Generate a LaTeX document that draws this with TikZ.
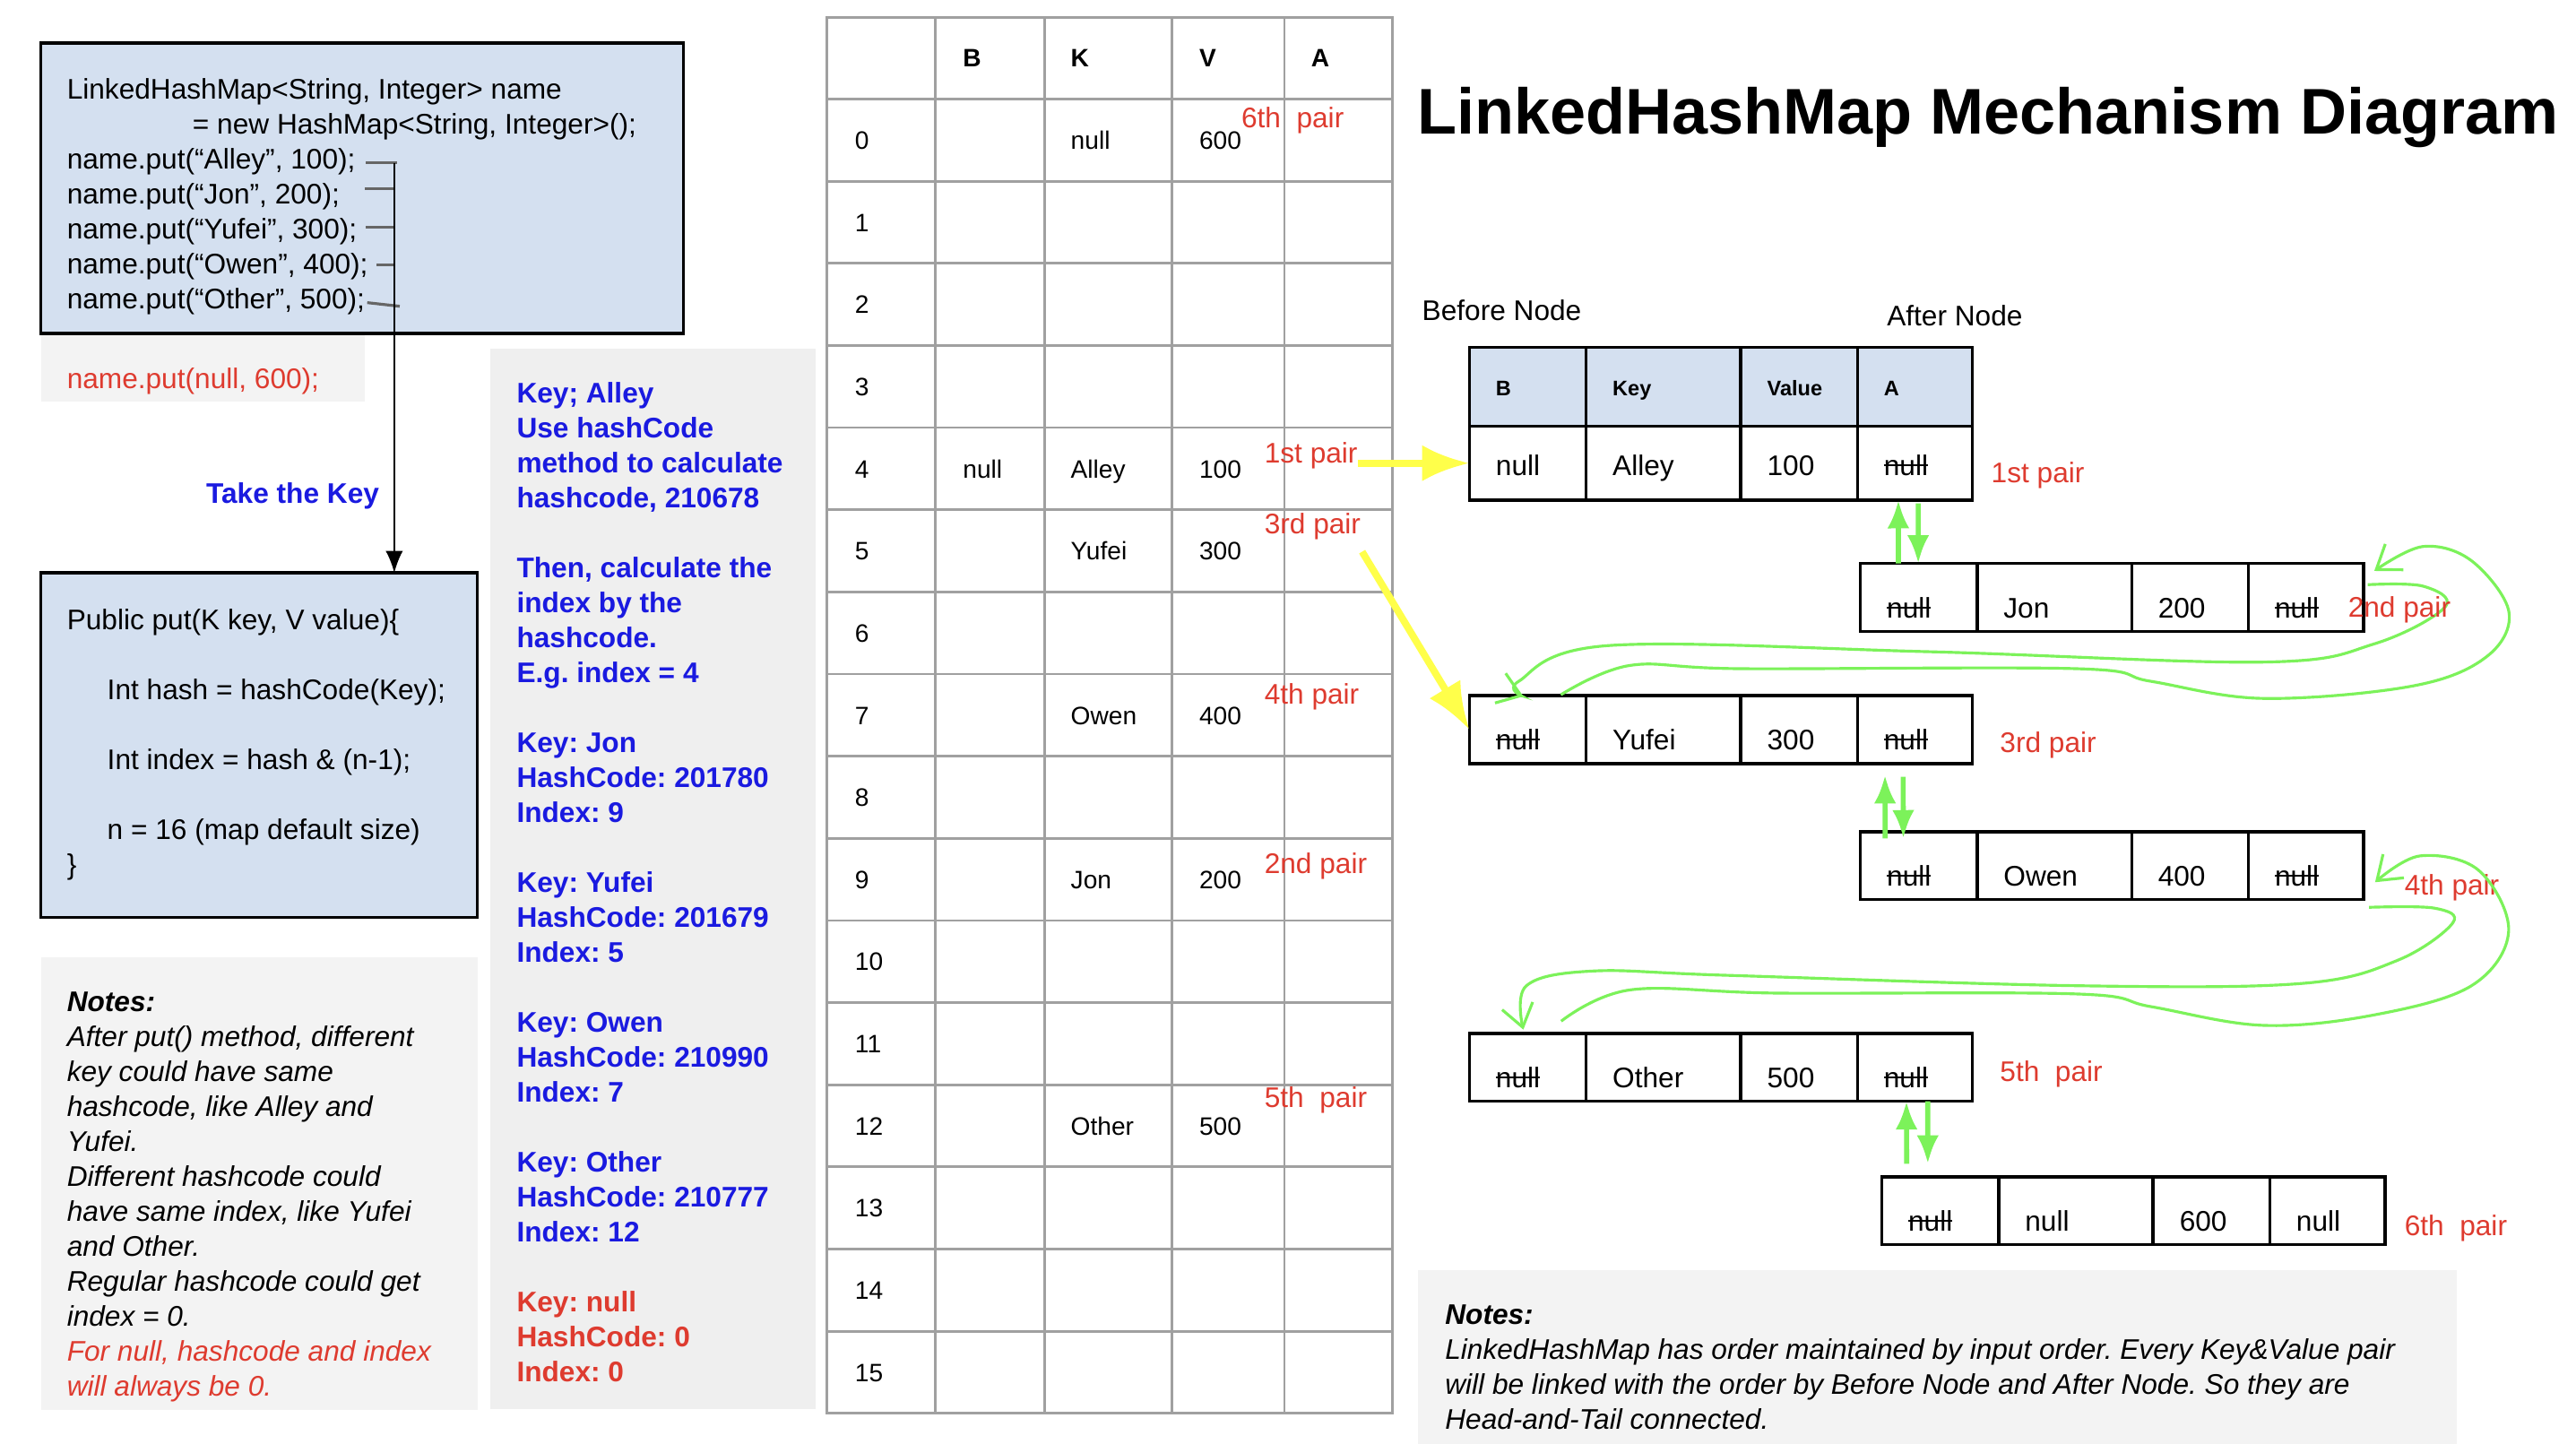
\documentclass[tikz,border=0pt]{standalone}
\usepackage{fontspec}
\setmainfont{Liberation Sans}
\usetikzlibrary{shapes, arrows.meta, positioning, calc}
\frenchspacing

\definecolor{codeblue}{RGB}{212,224,240}
\definecolor{notegray}{RGB}{243,243,243}
\definecolor{panelgray}{RGB}{239,239,239}
\definecolor{gridgray}{RGB}{160,160,160}
\definecolor{keyblue}{RGB}{26,26,224}
\definecolor{pairred}{RGB}{222,59,47}
\definecolor{linkgreen}{RGB}{124,242,90}
\definecolor{pointyellow}{RGB}{255,255,74}

\newlength\strikelen
\newcommand\struck[1]{\settowidth{\strikelen}{#1}\rlap{#1}\rule[0.33em]{\strikelen}{0.6pt}}

\begin{document}
\begin{tikzpicture}[x=0.5241pt, y=-0.5241pt]
      \tikzstyle{codebox} = [
        rectangle,
        draw,
        line width=1pt,
        fill=codeblue,
        anchor=north west,
        inner sep=0pt,
        outer sep=0pt
      ]

      \tikzstyle{notebox} = [
        rectangle,
        fill=notegray,
        anchor=north west,
        inner sep=0pt
      ]

      \tikzstyle{textblock} = [
        anchor=north west,
        inner sep=0pt,
        align=left,
        font=\fontsize{9}{11.1}\selectfont
      ]

      \tikzstyle{oneline} = [
        anchor=base west,
        inner sep=0pt,
        font=\fontsize{9}{11.1}\selectfont
      ]

      \tikzstyle{pairtag} = [oneline, text=pairred]

      \tikzstyle{tabtext} = [
        anchor=base west,
        inner sep=0pt,
        font=\fontsize{8}{10}\selectfont
      ]

      \tikzstyle{tabhead} = [tabtext, font=\fontsize{8}{10}\selectfont\bfseries]

      \tikzstyle{cell} = [
        rectangle,
        draw,
        line width=1pt,
        fill=white,
        inner xsep=8.4pt,
        inner ysep=0pt,
        outer sep=0pt,
        align=left,
        text height=13.9pt,
        text depth=1pt,
        minimum height=21.5pt,
        font=\fontsize{9}{11}\selectfont
      ]

      \tikzstyle{bcell} = [cell, text width=20.25pt]
      \tikzstyle{kcell} = [cell, text width=32.25pt]
      \tikzstyle{vcell} = [cell, text width=20.25pt]
      \tikzstyle{acell} = [cell, text width=19.7pt]

      \tikzstyle{headrow} = [
        fill=codeblue,
        minimum height=25.1pt,
        text height=6.8pt,
        font=\fontsize{6.7}{8}\selectfont\bfseries
      ]

      \tikzstyle{firstrow} = [minimum height=23.4pt, text height=8.9pt]

      \tikzstyle{gridline} = [draw=gridgray, line width=0.8pt]
      \tikzstyle{codetick} = [draw=black!60, line width=0.9pt]
      \tikzstyle{hashpointer} = [draw=pointyellow, line width=2.25pt, -{Latex[length=15pt, width=11.5pt]}]
      \tikzstyle{pairlink} = [draw=linkgreen, line width=1.6pt, -{Latex[length=9pt, width=7pt]}]
      \tikzstyle{backlink} = [draw=linkgreen, line width=0.9pt, -{Straight Barb[length=7pt, width=10pt]}]

      \path[fill=white, use as bounding box] (0,0) rectangle (1560.2,874.05);

      % code and notes on the left
      \node[notebox, minimum width=102.8pt, minimum height=21.3pt] (nullbox) at (24.6,202) {};
      \node[codebox, minimum width=204.1pt, minimum height=92.2pt] (declbox) at (24.6,26) {};
      \node[codebox, minimum width=138.6pt, minimum height=109.3pt] (putbox) at (24.6,347) {};
      \node[notebox, minimum width=138.6pt, minimum height=143.6pt] (keynotes) at (24.6,579.5) {};
      \node[notebox, fill=panelgray, minimum width=103.3pt, minimum height=336.5pt] (hashpanel) at (296.6,211) {};
      \node[notebox, minimum width=329.6pt, minimum height=55pt] (mapnotes) at (858.6,769) {};

      \node[textblock] (decltext) at (40.2,44.7) {\strut LinkedHashMap<String, Integer> name\\
        \hspace*{39.9pt}= new HashMap<String, Integer>();\\
        name.put(“Alley”, 100);\\
        name.put(“Jon”, 200);\\
        name.put(“Yufei”, 300);\\
        name.put(“Owen”, 400);\\
        name.put(“Other”, 500);};
      \node[oneline, text=pairred] (nullput) at (40.2,235.6) {name.put(null, 600);};
      \node[oneline, anchor=base east, text=keyblue, font=\fontsize{9}{11.1}\selectfont\bfseries] (takekey) at (230,304.8) {Take the Key};

      \node[textblock] (puttext) at (40.2,366.3) {\strut Public put(K key, V value)\{\\[11.1pt]
        \hspace*{12.8pt}Int hash = hashCode(Key);\\[11.1pt]
        \hspace*{12.8pt}Int index = hash \& (n-1);\\[11.1pt]
        \hspace*{12.8pt}n = 16 (map default size)\\
        \}};

      \node[textblock, font=\fontsize{9}{11.1}\selectfont\itshape] (keynotestext) at (40.2,597.3) {\strut\textbf{Notes:}\\
        After put() method, different\\
        key could have same\\
        hashcode, like Alley and\\
        Yufei.\\
        Different hashcode could\\
        have same index, like Yufei\\
        and Other.\\
        Regular hashcode could get\\
        index = 0.\\
        {\color{pairred}For null, hashcode and index}\\
        {\color{pairred}will always be 0.}};

      \node[textblock, text=keyblue, font=\fontsize{9}{11.1}\selectfont\bfseries] (hashtext) at (312.6,228.7) {\strut Key; Alley\\
        Use hashCode\\
        method to calculate\\
        hashcode, 210678\\[11.1pt]
        Then, calculate the\\
        index by the\\
        hashcode.\\
        E.g. index = 4\\[11.1pt]
        Key: Jon\\
        HashCode: 201780\\
        Index: 9\\[11.1pt]
        Key: Yufei\\
        HashCode: 201679\\
        Index: 5\\[11.1pt]
        Key: Owen\\
        HashCode: 210990\\
        Index: 7\\[11.1pt]
        Key: Other\\
        HashCode: 210777\\
        Index: 12\\[11.1pt]
        {\color{pairred}Key: null}\\
        {\color{pairred}HashCode: 0}\\
        {\color{pairred}Index: 0}};

      \coordinate (tap) at (238.8,98.6);
      \draw[codetick] (221.5,98.6) -- (240.6,98.6);
      \draw[codetick] (220.9,114.4) -- (238.8,114.4);
      \draw[codetick] (221.4,137.5) -- (238.8,137.5);
      \draw[codetick] (228.1,160.3) -- (239,160.3);
      \draw[codetick] (222.4,183.3) -- (242.1,185.5);
      \draw[line width=0.6pt, -{Latex[length=7pt, width=5.5pt]}] (tap) -- (tap |- putbox.north);

      % bucket table
      \draw[gridline] (500.7,10.5) rectangle (843.2,856);
      \foreach \x in {566.6,632.5,709.8,777.9}
        \draw[gridline] (\x,10.5) -- (\x,856);
      \foreach \i in {0,...,15}
        \draw[gridline] (500.7,60+49.75*\i) -- (843.2,60+49.75*\i);

      \node[tabhead] (colB) at (582.9,40.6) {B};
      \node[tabhead] (colK) at (648.2,40.6) {K};
      \node[tabhead] (colV) at (726,40.6) {V};
      \node[tabhead] (colA) at (793.7,40.6) {A};
      \foreach \i in {0,...,15}
        \node[tabtext] (idx\i) at (517.5,90.4+49.75*\i) {\i};
      \foreach \i/\k/\v in {0/null/600, 4/Alley/100, 5/Yufei/300, 7/Owen/400, 9/Jon/200, 12/Other/500} {
        \node[tabtext] (key\i) at (648.2,90.4+49.75*\i) {\k};
        \node[tabtext] (val\i) at (726,90.4+49.75*\i) {\v};
      }
      \node[tabtext] (before4) at (582.9,289.4) {null};

      \node[pairtag] (pair6) at (751.5,77.3) {6th\ \ pair};
      \node[pairtag] (pair1) at (765.5,280.6) {1st pair};
      \node[pairtag] (pair3) at (765.5,323.2) {3rd pair};
      \node[pairtag] (pair4) at (765.5,426.5) {4th pair};
      \node[pairtag] (pair2) at (765.5,529) {2nd pair};
      \node[pairtag] (pair5) at (765.5,670.9) {5th\ \ pair};

      % linked entries
      \node[anchor=base west, inner sep=0pt, font=\fontsize{20.5}{24}\selectfont\bfseries] (title) at (858,81) {LinkedHashMap Mechanism Diagram};
      \node[oneline] (beforenode) at (861,194) {Before Node};
      \node[oneline] (afternode) at (1142.5,197.2) {After Node};

      \node[bcell, headrow, anchor=north west] (headB) at (890,210.3) {B};
      \node[kcell, headrow, right=0pt of headB] (headK) {Key};
      \node[vcell, headrow, right=0pt of headK] (headV) {Value};
      \node[acell, headrow, right=0pt of headV] (headA) {A};

      \node[bcell, firstrow, anchor=north west] (alleyB) at (890,258.2) {null};
      \node[kcell, firstrow, right=0pt of alleyB] (alleyK) {Alley};
      \node[vcell, firstrow, right=0pt of alleyK] (alleyV) {100};
      \node[acell, firstrow, right=0pt of alleyV] (alleyA) {\struck{null}};

      \node[bcell, anchor=north west] (jonB) at (1126.8,341.3) {\struck{null}};
      \node[kcell, right=0pt of jonB] (jonK) {Jon};
      \node[vcell, right=0pt of jonK] (jonV) {200};
      \node[acell, right=0pt of jonV] (jonA) {\struck{null}};

      \node[bcell, anchor=north west] (yufeiB) at (890,421.4) {\struck{null}};
      \node[kcell, right=0pt of yufeiB] (yufeiK) {Yufei};
      \node[vcell, right=0pt of yufeiK] (yufeiV) {300};
      \node[acell, right=0pt of yufeiV] (yufeiA) {\struck{null}};

      \node[bcell, anchor=north west] (owenB) at (1126.8,503.8) {\struck{null}};
      \node[kcell, right=0pt of owenB] (owenK) {Owen};
      \node[vcell, right=0pt of owenK] (owenV) {400};
      \node[acell, right=0pt of owenV] (owenA) {\struck{null}};

      \node[bcell, anchor=north west] (otherB) at (890,625.9) {\struck{null}};
      \node[kcell, right=0pt of otherB] (otherK) {Other};
      \node[vcell, right=0pt of otherK] (otherV) {500};
      \node[acell, right=0pt of otherV] (otherA) {\struck{null}};

      \node[bcell, anchor=north west] (tailB) at (1139.8,712.8) {\struck{null}};
      \node[kcell, right=0pt of tailB] (tailK) {null};
      \node[vcell, right=0pt of tailK] (tailV) {600};
      \node[acell, right=0pt of tailV] (tailA) {null};

      \node[pairtag] (tag1) at (1205.7,292.3) {1st pair};
      \node[pairtag] (tag3) at (1211,455.9) {3rd pair};
      \node[pairtag] (tag4) at (1456,542.2) {4th pair};
      \node[pairtag] (tag5) at (1211,654.9) {5th\ \ pair};
      \node[pairtag] (tag6) at (1456,748.6) {6th\ \ pair};

      \draw[hashpointer] (pair1.east |- alleyB.west) -- (alleyB.west);
      \draw[hashpointer] ($(pair3.south east)+(0.5,7)$) -- (yufeiB.west);

      \draw[pairlink] ($(jonB.north west)+(23,0)$) -- ($(alleyA.south west)+(24.8,0)$);
      \draw[pairlink] ($(alleyA.south west)+(36.8,2)$) -- ($(jonB.north west)+(35,0)$);
      \draw[pairlink] ($(owenB.north west)+(15,4)$) -- ($(yufeiA.south west)+(16.7,7)$);
      \draw[pairlink] ($(yufeiA.south west)+(27.7,8)$) -- ($(owenB.north west)+(26,4)$);
      \draw[pairlink] ($(tailB.north west)+(15,-8)$) -- ($(otherA.south west)+(29.7,0)$);
      \draw[pairlink] ($(otherA.south west)+(42.6,0)$) -- ($(tailB.north west)+(27.8,-8)$);

      \draw[backlink] plot[smooth, tension=0.6] coordinates {($(jonA.east)+(2.6,-7.7)$) (1467.5,355) (1481,367.5) (1437.9,390) (1370.7,401) (1167.8,394.7) (974.1,391) (919.9,412.6) ($(yufeiB.north)+(-2.7,0.4)$)};
      \draw[backlink] plot[smooth, tension=0.6] coordinates {($(yufeiB.north)+(20,-0.6)$) (987.4,403) (1055,405) (1257.9,405) (1302.5,412.6) (1370.7,423) (1460.6,415.6) (1505.7,398) (1519.6,370.8) (1497,339.7) (1467.5,331) ($(jonA.north east)+(6.6,4.5)$)};
      \draw[backlink] plot[smooth, tension=0.6] coordinates {($(owenA.south east)+(3.4,4.7)$) (1474.3,550) (1485.6,558.9) (1451.7,581.8) (1393.2,595.7) (1258,597) (1046.1,590.7) (965,588.1) (924.5,597) ($(otherB.north)+(-2.7,-2.3)$)};
      \draw[backlink] plot[smooth, tension=0.6] coordinates {($(otherB.north)+(20.2,-7.4)$) (987.6,599.5) (1077.7,601.5) (1257.9,602) (1302.9,609.7) (1370.5,621) (1437.9,614.7) (1496.9,597) (1519.4,564) (1501.1,527) (1465.6,518.4) ($(owenA.south east)+(7.1,-10.5)$)};

      \node[pairtag] (tag2) at (1421.8,374) {2nd pair};

      \node[textblock, font=\fontsize{9}{11.1}\selectfont\itshape] (mapnotestext) at (874.9,786.8) {\strut\textbf{Notes:}\\
        LinkedHashMap has order maintained by input order. Every Key\&Value pair\\
        will be linked with the order by Before Node and After Node. So they are\\
        Head-and-Tail connected.};
    \end{tikzpicture}
\end{document}
